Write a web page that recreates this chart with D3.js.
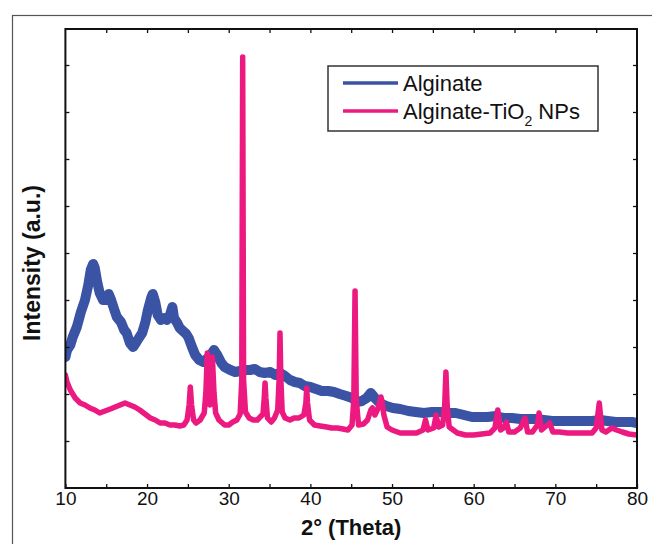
<!DOCTYPE html>
<html>
<head>
<meta charset="utf-8">
<script src="https://cdn.jsdelivr.net/npm/d3@7"></script>
<style>
  html, body { margin: 0; padding: 0; background: #fff; }
  svg { display: block; font-family: "Liberation Sans", Arial, Helvetica, sans-serif; }
</style>
</head>
<body>
<svg id="chart" width="652" height="544"></svg>
<script>
// XRD patterns: [2θ (deg), intensity (a.u.)]
const alginate = [
  [10.0,131],[10.2,138],[10.6,143],[10.9,151],[11.4,161],[11.9,176],[12.4,188],[12.8,203],
  [13.1,218],[13.4,224],[13.6,220],[13.9,206],[14.2,195],[14.6,188],[15.0,188],[15.3,194],
  [15.6,188],[16.0,178],[16.3,171],[16.8,166],[17.2,158],[17.5,155],[17.9,145],[18.3,141],
  [18.7,146],[19.0,150],[19.4,155],[19.8,166],[20.1,178],[20.5,190],[20.7,194],[21.0,186],
  [21.3,173],[21.7,168],[22.1,170],[22.4,168],[22.8,173],[23.1,181],[23.3,170],[23.7,165],
  [24.0,160],[24.4,157],[24.8,154],[25.1,150],[25.5,141],[25.9,133],[26.4,128],[26.9,126],
  [27.3,129],[27.8,133],[28.2,138],[28.6,133],[29.1,125],[29.5,121],[30.2,118],[30.8,116],
  [31.4,117],[32.0,118],[32.6,118],[33.2,119],[33.8,116],[34.4,115],[35.1,116],[35.7,113],
  [36.3,115],[36.9,112],[37.5,108],[38.1,106],[38.7,105],[39.3,102],[40.0,101],[40.7,99],
  [41.4,97],[42.2,97],[42.9,96],[43.6,94],[44.4,92],[45.1,90],[45.7,86],[46.3,87],
  [46.9,90],[47.4,95],[47.9,90],[48.5,85],[49.3,82],[50.1,80],[51.0,79],[52.0,77],
  [52.9,76],[53.9,75],[54.9,76],[55.9,76],[56.9,75],[57.8,75],[58.8,73],[59.8,71],
  [60.8,71],[61.7,71],[62.7,72],[63.7,70],[64.7,70],[65.7,69],[66.6,69],[67.6,69],
  [68.6,68],[69.6,67],[70.6,67],[71.5,67],[72.5,67],[73.5,67],[74.5,67],[75.5,68],
  [76.4,67],[77.4,66],[78.4,66],[79.4,66],[80.0,65]
];

const alginateTiO2 = [
  [10.0,113],[10.2,106],[10.6,98],[11.2,90],[11.8,85],[12.4,83],[13.0,80],[13.6,78],
  [14.2,75],[14.85,77],[15.5,79],[16.1,81],[16.7,83],[17.3,85],[17.9,83],[18.5,81],
  [19.1,78],[19.75,74],[20.4,70],[21.0,68],[21.6,65],[22.2,65],[22.8,63],[23.4,63],
  [24.0,62],[24.5,63],[24.9,68],[25.15,83],[25.3,101],[25.45,83],[25.7,68],[26.0,65],
  [26.5,68],[27.0,75],[27.2,95],[27.38,135],[27.55,95],[27.7,83],[27.85,95],[28.0,131],
  [28.2,95],[28.4,75],[28.8,68],[29.5,63],[30.0,63],[30.5,66],[31.0,68],[31.4,74],
  [31.6,108],[31.71,431],[31.82,108],[32.05,76],[32.5,70],[33.0,68],[33.5,68],[34.2,74],
  [34.35,90],[34.45,105],[34.55,90],[34.75,70],[35.2,66],[35.6,70],[36.0,78],[36.18,110],
  [36.28,155],[36.38,110],[36.55,76],[36.9,70],[37.5,68],[38.0,70],[38.6,70],[39.2,73],
  [39.45,85],[39.55,100],[39.65,85],[39.9,68],[40.5,63],[41.2,62],[42.0,61],[42.6,60],
  [43.3,60],[44.0,59],[44.6,58],[45.1,63],[45.32,88],[45.47,197],[45.62,88],[45.9,63],
  [46.5,64],[47.0,68],[47.4,78],[47.6,80],[47.9,73],[48.3,80],[48.55,88],[48.65,91],
  [48.8,85],[49.0,73],[49.4,61],[50.0,58],[51.0,55],[52.0,55],[53.0,55],[53.8,58],
  [54.1,68],[54.4,58],[55.1,60],[55.4,73],[55.7,61],[56.2,63],[56.45,83],[56.6,116],
  [56.75,83],[57.0,61],[57.5,58],[58.0,55],[59.0,53],[60.0,53],[61.0,54],[62.0,55],
  [62.6,60],[62.95,78],[63.3,58],[63.8,61],[64.0,66],[64.3,56],[65.0,56],[65.7,60],
  [66.28,70],[66.6,56],[67.2,56],[67.8,63],[68.0,75],[68.3,58],[69.3,65],[69.7,56],
  [70.5,56],[71.5,55],[72.5,55],[73.5,55],[74.5,55],[75.0,60],[75.38,85],[75.7,58],
  [76.2,56],[76.9,60],[77.5,58],[78.2,56],[79.0,54],[80.0,53]
];

const xTickLabels = [10, 20, 30, 40, 50, 60, 70, 80];
const xTickMarks = [10, 15, 20, 25, 30, 35, 40, 45, 50, 55, 60, 65, 70, 75, 80];
const yTickMarks = [47, 94, 141, 188, 235, 282, 329, 376, 423];

const seriesNames = ["Alginate", "Alginate-TiO"];
const seriesColors = ["#3a53a4", "#ec1a80"];

const plot = { left: 65.4, right: 637, top: 29, bottom: 488 };

const svg = d3.select("#chart");
svg.append("rect").attr("width", 652).attr("height", 544).attr("fill", "#fff");

// outer figure border
svg.append("rect")
  .attr("x", 12.5).attr("y", 15.5).attr("width", 700).attr("height", 600)
  .attr("fill", "none").attr("stroke", "#555").attr("stroke-width", 1.2);

const x = d3.scaleLinear().domain([10, 80]).range([plot.left, plot.right]);
const y = d3.scaleLinear().domain([0, 459]).range([plot.bottom, plot.top]);

svg.append("clipPath").attr("id", "plotClip")
  .append("rect")
  .attr("x", plot.left).attr("y", plot.top)
  .attr("width", plot.right - plot.left).attr("height", plot.bottom - plot.top);

const line = d3.line().x(d => x(d[0])).y(d => y(d[1])).curve(d3.curveLinear);

const lines = svg.append("g").attr("clip-path", "url(#plotClip)");
lines.append("path").datum(alginate)
  .attr("d", line).attr("fill", "none")
  .attr("stroke", seriesColors[0]).attr("stroke-width", 10)
  .attr("stroke-linejoin", "round").attr("stroke-linecap", "round");
lines.append("path").datum(alginateTiO2)
  .attr("d", line).attr("fill", "none")
  .attr("stroke", seriesColors[1]).attr("stroke-width", 5.5)
  .attr("stroke-linejoin", "round").attr("stroke-linecap", "round");

// axes with inward ticks
const axisStyle = g => {
  g.select(".domain").remove();
  g.selectAll(".tick line").attr("stroke", "#111").attr("stroke-width", 1.3);
};

svg.append("g")
  .attr("transform", `translate(0,${plot.bottom})`)
  .call(d3.axisBottom(x).tickValues(xTickMarks).tickSizeInner(-4).tickSizeOuter(0)
    .tickPadding(3).tickFormat(d => xTickLabels.includes(d) ? d : ""))
  .call(axisStyle)
  .call(g => g.selectAll(".tick text").attr("font-size", 19).attr("fill", "#111")
    .attr("font-family", "'Liberation Sans', Arial, sans-serif"));

svg.append("g")
  .attr("transform", `translate(0,${plot.top})`)
  .call(d3.axisTop(x).tickValues(xTickMarks.slice(1, -1)).tickSizeInner(-4).tickSizeOuter(0).tickFormat(""))
  .call(axisStyle);

svg.append("g")
  .attr("transform", `translate(${plot.left},0)`)
  .call(d3.axisLeft(y).tickValues(yTickMarks).tickSizeInner(-4).tickSizeOuter(0).tickFormat(""))
  .call(axisStyle);

svg.append("g")
  .attr("transform", `translate(${plot.right},0)`)
  .call(d3.axisRight(y).tickValues(yTickMarks).tickSizeInner(-4).tickSizeOuter(0).tickFormat(""))
  .call(axisStyle);

// plot frame
svg.append("rect")
  .attr("x", plot.left).attr("y", plot.top)
  .attr("width", plot.right - plot.left).attr("height", plot.bottom - plot.top)
  .attr("fill", "none").attr("stroke", "#111").attr("stroke-width", 2);

// axis titles
svg.append("text")
  .attr("x", (plot.left + plot.right) / 2).attr("y", 535)
  .attr("text-anchor", "middle").attr("font-size", 22).attr("font-weight", "bold")
  .attr("fill", "#111")
  .text("2\u00B0 (Theta)");

svg.append("text")
  .attr("transform", "translate(40,263) rotate(-90)")
  .attr("text-anchor", "middle").attr("font-size", 23).attr("font-weight", "bold")
  .attr("fill", "#111")
  .text("Intensity (a.u.)");

// legend
const legend = svg.append("g");
legend.append("rect")
  .attr("x", 328).attr("y", 66).attr("width", 270).attr("height", 65)
  .attr("fill", "#fff").attr("stroke", "#333").attr("stroke-width", 1.5);

const rows = [83, 111];
rows.forEach((ry, i) => {
  legend.append("line")
    .attr("x1", 343).attr("x2", 398).attr("y1", ry).attr("y2", ry)
    .attr("stroke", seriesColors[i]).attr("stroke-width", 3.5);
});

legend.append("text").attr("x", 403).attr("y", 91)
  .attr("font-size", 22).attr("fill", "#111").text(seriesNames[0]);

const t2 = legend.append("text").attr("x", 403).attr("y", 119)
  .attr("font-size", 22).attr("fill", "#111");
t2.append("tspan").text(seriesNames[1]);
t2.append("tspan").attr("font-size", 14).attr("dy", 7).text("2");
t2.append("tspan").attr("dy", -7).text(" NPs");
</script>
</body>
</html>
